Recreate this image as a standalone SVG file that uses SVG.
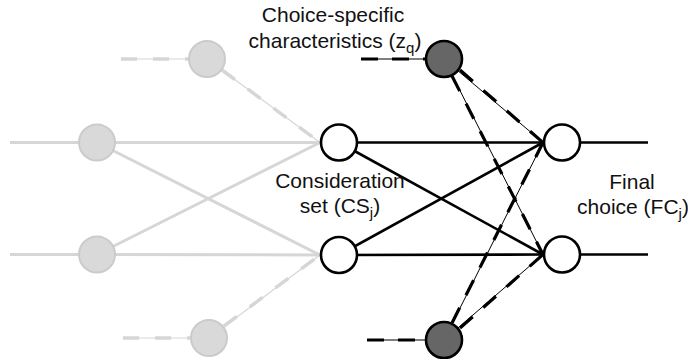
<svg xmlns="http://www.w3.org/2000/svg" width="688" height="359" viewBox="0 0 688 359">
<style>
.g{stroke:#d6d6d6;stroke-width:3;fill:none}
.gt{stroke:#d6d6d6;stroke-width:1.2;fill:none}
.gd{stroke:#d6d6d6;stroke-width:3.5;fill:none;stroke-dasharray:16 16}
.k{stroke:#000;stroke-width:2.6;fill:none}
.kt{stroke:#000;stroke-width:1;fill:none}
.kd{stroke:#000;stroke-width:3.2;fill:none;stroke-dasharray:17 14}
.gn{fill:#d9d9d9;stroke:#cbcbcb;stroke-width:2}
.wn{fill:#fff;stroke:#000;stroke-width:2.6}
.dn{fill:#666;stroke:#000;stroke-width:2.6}
text{font-family:"Liberation Sans",Arial,sans-serif;font-size:21px;fill:#111;text-anchor:middle}
.sub{font-size:15px}
</style>
<g id="connectors">
<line class="g" x1="10" y1="142.5" x2="97" y2="142.5"/>
<line class="g" x1="10" y1="254.5" x2="97" y2="254.5"/>
<line class="g" x1="97" y1="142.5" x2="320" y2="142.5"/>
<line class="g" x1="97" y1="142.5" x2="320" y2="255"/>
<line class="g" x1="97" y1="254.5" x2="320" y2="142.5"/>
<line class="g" x1="97" y1="254.5" x2="320" y2="255"/>
<line class="gt" x1="121" y1="59" x2="207" y2="59"/>
<line class="gd" x1="121" y1="59" x2="190" y2="59"/>
<line class="gt" x1="207" y1="59" x2="320" y2="142.5"/>
<line class="gd" x1="222" y1="70" x2="320" y2="142.5"/>
<line class="gt" x1="123" y1="338" x2="209" y2="338"/>
<line class="gd" x1="123" y1="338" x2="192" y2="338"/>
<line class="gt" x1="209" y1="338" x2="320" y2="255"/>
<line class="gd" x1="224" y1="326" x2="320" y2="255"/>
<line class="k" x1="339" y1="142.5" x2="543" y2="142.5"/>
<line class="k" x1="339" y1="142.5" x2="543" y2="254.5"/>
<line class="k" x1="339" y1="255" x2="543" y2="142.5"/>
<line class="k" x1="339" y1="255" x2="543" y2="254.5"/>
<line class="k" x1="562" y1="142.5" x2="648" y2="142.5"/>
<line class="k" x1="562" y1="254.5" x2="648" y2="254.5"/>
<line class="kt" x1="361" y1="59" x2="444" y2="59"/>
<line class="kd" x1="361" y1="59" x2="426" y2="59"/>
<line class="kt" x1="367" y1="340" x2="444" y2="340"/>
<line class="kd" x1="367" y1="340" x2="426" y2="340"/>
<line class="kt" x1="444" y1="59" x2="543" y2="142.5"/>
<line class="kd" x1="460" y1="70" x2="543" y2="142.5"/>
<line class="kt" x1="444" y1="59" x2="543" y2="254.5"/>
<line class="kd" x1="452" y1="76" x2="543" y2="254.5"/>
<line class="kt" x1="444" y1="340" x2="543" y2="142.5"/>
<line class="kd" x1="452" y1="323" x2="543" y2="142.5"/>
<line class="kt" x1="444" y1="340" x2="543" y2="254.5"/>
<line class="kd" x1="460" y1="328" x2="543" y2="254.5"/>
</g>
<g id="gray-top"><circle class="gn" cx="207" cy="59" r="18"/></g>
<g id="gray-left-top"><circle class="gn" cx="97" cy="142.5" r="18"/></g>
<g id="gray-left-bottom"><circle class="gn" cx="97" cy="254.5" r="18"/></g>
<g id="gray-bottom"><circle class="gn" cx="209" cy="338" r="18"/></g>
<g id="cs-top"><circle class="wn" cx="339" cy="142.5" r="18"/></g>
<g id="cs-bottom"><circle class="wn" cx="339" cy="255" r="18"/></g>
<g id="z-top"><circle class="dn" cx="444" cy="59" r="18"/></g>
<g id="z-bottom"><circle class="dn" cx="444" cy="340" r="18"/></g>
<g id="fc-top"><circle class="wn" cx="562" cy="142.5" r="18"/></g>
<g id="fc-bottom"><circle class="wn" cx="562" cy="254.5" r="18"/></g>
<g id="labels">
<text x="333" y="22">Choice-specific</text>
<text x="335" y="48">characteristics (z<tspan class="sub" dy="5">q</tspan><tspan dy="-5">)</tspan></text>
<text x="340" y="188">Consideration</text>
<text x="340" y="213">set (CS<tspan class="sub" dy="5">j</tspan><tspan dy="-5">)</tspan></text>
<text x="632" y="189">Final</text>
<text x="633" y="214">choice (FC<tspan class="sub" dy="5">j</tspan><tspan dy="-5">)</tspan></text>
</g>
</svg>
